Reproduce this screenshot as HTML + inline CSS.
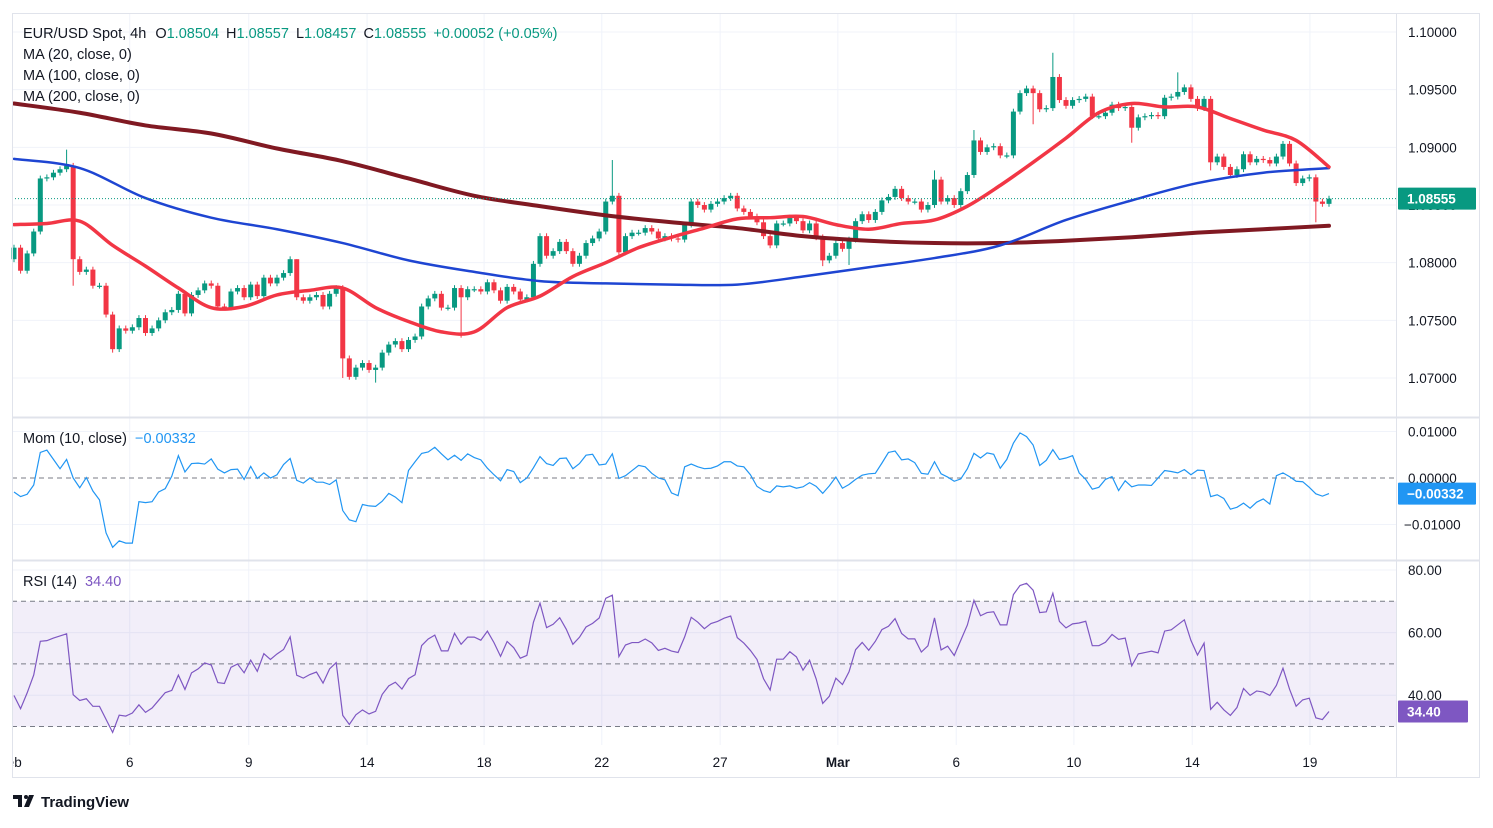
<!DOCTYPE html>
<html>
<head>
<meta charset="utf-8">
<style>
html,body{margin:0;padding:0;background:#fff;}
body{width:1493px;height:823px;overflow:hidden;font-family:"Liberation Sans",sans-serif;}
svg text{font-family:"Liberation Sans",sans-serif;}
</style>
</head>
<body>
<svg id="chart" width="1493" height="823" viewBox="0 0 1493 823" xmlns="http://www.w3.org/2000/svg">
  <rect x="0" y="0" width="1493" height="823" fill="#ffffff"/>
  <g id="grid"></g>
  <rect id="rsiBand" x="12" y="0" width="1384" height="0" fill="#7e57c2" fill-opacity="0.1"/>
  <g id="guides"></g>
  <g id="candles"></g>
  <g id="mas"></g>
  <g id="ind"></g>
  <g id="axes"></g>
  <rect x="12.5" y="13.5" width="1467" height="764" fill="none" stroke="#e0e3eb"/>
  <line x1="1396.5" y1="13" x2="1396.5" y2="778" stroke="#e0e3eb"/>
  <line x1="12" y1="417.5" x2="1480" y2="417.5" stroke="#e0e3eb" stroke-width="2"/>
  <line x1="12" y1="560.5" x2="1480" y2="560.5" stroke="#e0e3eb" stroke-width="2"/>
  <g font-size="14.5" fill="#131722">
    <text x="23" y="38">EUR/USD Spot, 4h <tspan dx="5">O</tspan><tspan fill="#089981">1.08504</tspan><tspan dx="7">H</tspan><tspan fill="#089981">1.08557</tspan><tspan dx="7">L</tspan><tspan fill="#089981">1.08457</tspan><tspan dx="7">C</tspan><tspan fill="#089981">1.08555</tspan><tspan dx="7" fill="#089981">+0.00052 (+0.05%)</tspan></text>
    <text x="23" y="59">MA (20, close, 0)</text>
    <text x="23" y="80">MA (100, close, 0)</text>
    <text x="23" y="101">MA (200, close, 0)</text>
    <text x="23" y="443">Mom (10, close) <tspan dx="4" fill="#2196f3" id="momLeg"></tspan></text>
    <text x="23" y="586">RSI (14) <tspan dx="4" fill="#7e57c2" id="rsiLeg"></tspan></text>
  </g>
  <g>
    <path d="M13 795 h9 v12 h-4 v-8 h-5 z" fill="#131722"/>
    <circle cx="26" cy="797" r="2" fill="#131722"/>
    <path d="M29 795 h5 l-5 12 h-5 z" fill="#131722"/>
    <text x="41" y="807" font-size="15" font-weight="bold" fill="#131722">TradingView</text>
  </g>
</svg>
<script>
// ---- data ----
const priorCloses = [1.0850,1.0845,1.0848,1.0840,1.0843,1.0833,1.0843,1.0842,1.0818,1.0814,1.0838,1.0861,1.0844,1.0803];
const closes = [
1.0813,1.0793,1.0808,1.0827,1.0873,1.0874,1.0878,1.0881,1.0884,1.0803,
1.0792,1.0794,1.0780,1.0780,1.0755,1.0725,1.0743,1.0741,1.0744,1.0752,
1.0739,1.0743,1.0750,1.0757,1.0759,1.0773,1.0756,1.0772,1.0776,1.0782,
1.0780,1.0762,1.0761,1.0775,1.0778,1.0770,1.0781,1.0771,1.0787,1.0782,
1.0787,1.0791,1.0803,1.0770,1.0767,1.0770,1.0772,1.0762,1.0773,1.0778,
1.0717,1.0701,1.0709,1.0713,1.0707,1.0709,1.0722,1.0729,1.0732,1.0725,
1.0733,1.0736,1.0762,1.0769,1.0773,1.0761,1.0761,1.0778,1.0770,1.0777,
1.0777,1.0775,1.0783,1.0776,1.0767,1.0779,1.0775,1.0768,1.0770,1.0799,
1.0823,1.0806,1.0810,1.0818,1.0810,1.0799,1.0806,1.0817,1.0821,1.0827,
1.0853,1.0858,1.0809,1.0823,1.0826,1.0826,1.0830,1.0827,1.0821,1.0823,
1.0821,1.0820,1.0833,1.0853,1.0850,1.0846,1.0851,1.0853,1.0856,1.0858,
1.0847,1.0844,1.0840,1.0835,1.0823,1.0815,1.0834,1.0834,1.0839,1.0836,
1.0828,1.0834,1.0822,1.0802,1.0806,1.0817,1.0812,1.0820,1.0836,1.0842,
1.0837,1.0844,1.0854,1.0857,1.0864,1.0856,1.0853,1.0853,1.0846,1.0850,
1.0872,1.0853,1.0856,1.0850,1.0862,1.0876,1.0906,1.0896,1.0900,1.0901,
1.0893,1.0893,1.0931,1.0947,1.0951,1.0947,1.0933,1.0934,1.0961,1.0941,
1.0936,1.0941,1.0942,1.0944,1.0927,1.0927,1.0930,1.0937,1.0934,1.0935,
1.0917,1.0926,1.0927,1.0928,1.0927,1.0943,1.0944,1.0948,1.0952,1.0942,
1.0934,1.0942,1.0887,1.0892,1.0883,1.0876,1.0881,1.0894,1.0887,1.0890,
1.0889,1.0886,1.0892,1.0903,1.0886,1.0869,1.0873,1.0874,1.0853,1.0851,1.08555];
const wickHighs = [[8,1.0898],[43,1.0798],[91,1.0889],[158,1.0982],[177,1.0965],[140,1.0880],[146,1.0915]];
const wickLows = [[9,1.0780],[15,1.0722],[50,1.0700],[55,1.0696],[68,1.0735],[92,1.0805],[123,1.0797],[127,1.0798],[155,1.0920],[170,1.0904],[198,1.0835],[182,1.0880]];
const ma20 = [1.0833,1.0834,1.0836,1.0815,1.0797,1.0778,1.0761,1.0762,1.0772,1.0776,1.0778,1.0761,1.0749,1.0740,1.0740,1.0761,1.0771,1.0788,1.0800,1.0813,1.0822,1.0830,1.0838,1.0839,1.0840,1.0833,1.0829,1.0834,1.0837,1.0849,1.0867,1.0887,1.0908,1.0930,1.0938,1.0935,1.0935,1.0925,1.0915,1.0906,1.0883];
const ma100 = [1.0890,1.0882,1.0856,1.0839,1.0829,1.0817,1.0802,1.0792,1.0784,1.0782,1.0781,1.0781,1.0788,1.0796,1.0804,1.0815,1.0837,1.0854,1.0869,1.0878,1.0882];
const ma200 = [1.0938,1.0930,1.0919,1.0912,1.0899,1.0888,1.0873,1.0858,1.0849,1.0841,1.0835,1.0830,1.0823,1.0819,1.0817,1.0817,1.0819,1.0822,1.0826,1.0829,1.0832];
const priceTicks = [1.10,1.095,1.09,1.085,1.08,1.075,1.07];
const priceTickLabels = ["1.10000","1.09500","1.09000","1.08500","1.08000","1.07500","1.07000"];
const momTicks = [0.01,0,-0.01];
const momTickLabels = ["0.01000","0.00000","\u22120.01000"];
const rsiTicks = [80,60,40];
const rsiTickLabels = ["80.00","60.00","40.00"];
const dateIdx = [-0.6,17.6,35.7,53.7,71.5,89.4,107.4,125.3,143.3,161.2,179.2,197.1];
const dateLabels = ["Feb","6","9","14","18","22","27","Mar","6","10","14","19"];
const lastPriceLabel = "1.08555";
const lastMomLabel = "\u22120.00332";
const lastRsiLabel = "34.40";

// ---- scales ----
const NS='http://www.w3.org/2000/svg';
const X = i => 14 + i*6.575;
const Y = p => 32 + (1.1 - p)*11533.33;
const YM = m => 478 - m*4650;
const YR = r => 570 + (80 - r)*3.13;
function mk(tag, attrs, parent){const e=document.createElementNS(NS,tag);for(const k in attrs)e.setAttribute(k,attrs[k]);parent.appendChild(e);return e;}
const grid=document.getElementById('grid'), guides=document.getElementById('guides'),
 cg=document.getElementById('candles'), mg=document.getElementById('mas'), ig=document.getElementById('ind'), ax=document.getElementById('axes');

// grid
dateIdx.forEach((d,k)=>{ if(k===0) return; const l=mk('line',{x1:X(d),x2:X(d),y1:13,y2:745,stroke:'#f0f3fa'},grid);
   });
priceTicks.forEach(p=>{ const l=mk('line',{x1:12,x2:1396,y1:Y(p),y2:Y(p),stroke:'#f0f3fa'},grid);
   });
momTicks.forEach(m=>{ if(m===0) return; const l=mk('line',{x1:12,x2:1396,y1:YM(m),y2:YM(m),stroke:'#f0f3fa'},grid);
   });
rsiTicks.forEach(r=>{ const l=mk('line',{x1:12,x2:1396,y1:YR(r),y2:YR(r),stroke:'#f0f3fa'},grid);
   });
const band=document.getElementById('rsiBand'); band.setAttribute('y',YR(70)); band.setAttribute('height',YR(30)-YR(70));
[[YM(0),'mom-zero-line'],[YR(70),'rsi-upper-line'],[YR(50),'rsi-mid-line'],[YR(30),'rsi-lower-line']].forEach(([y,n])=>{
 const l=mk('line',{x1:12,x2:1396,y1:y,y2:y,stroke:'#787b86','stroke-dasharray':'5,4'},guides);
   });

// candles
const hiMap={}, loMap={}; wickHighs.forEach(([i,v])=>hiMap[i]=v); wickLows.forEach(([i,v])=>loMap[i]=v);
closes.forEach((c,i)=>{
 const o = i===0 ? priorCloses[priorCloses.length-1] : closes[i-1];
 const up = c>=o, col = up?'#089981':'#f23645';
 const top=Math.max(o,c), bot=Math.min(o,c);
 const h = hiMap[i]!==undefined?Math.max(hiMap[i],top):top+0.00025;
 const l = loMap[i]!==undefined?Math.min(loMap[i],bot):bot-0.00025;
 const g=mk('g',{},cg);
  
 mk('line',{x1:X(i),x2:X(i),y1:Y(h),y2:Y(l),stroke:col,'stroke-width':1},g);
 const yt=Y(top), hb=Math.max(1.2,Y(bot)-yt);
 mk('rect',{x:X(i)-2.5,y:yt,width:5,height:hb,fill:col},g);
});

// smooth path
function smooth(pts){let d='M'+pts[0][0]+','+pts[0][1];
 for(let i=0;i<pts.length-1;i++){const p0=pts[i-1]||pts[i],p1=pts[i],p2=pts[i+1],p3=pts[i+2]||p2;
  d+=' C'+(p1[0]+(p2[0]-p0[0])/6)+','+(p1[1]+(p2[1]-p0[1])/6)+' '+(p2[0]-(p3[0]-p1[0])/6)+','+(p2[1]-(p3[1]-p1[1])/6)+' '+p2[0]+','+p2[1];}
 return d;}
const m200=mk('path',{d:smooth(ma200.map((v,k)=>[X(k*10),Y(v)])),fill:'none',stroke:'#801922','stroke-width':4,'stroke-linecap':'round'},mg);
 
const m100=mk('path',{d:smooth(ma100.map((v,k)=>[X(k*10),Y(v)])),fill:'none',stroke:'#1e45d2','stroke-width':2.5,'stroke-linecap':'round'},mg);
 
const m20=mk('path',{d:smooth(ma20.map((v,k)=>[X(k*5),Y(v)])),fill:'none',stroke:'#f23645','stroke-width':3.5,'stroke-linecap':'round'},mg);
 

// last price line
const last=closes[closes.length-1];
const lp=mk('line',{x1:12,x2:1396,y1:Y(last),y2:Y(last),stroke:'#089981','stroke-dasharray':'1,2'},mg);
 

// indicators
const all=priorCloses.concat(closes), off=priorCloses.length;
const mom=closes.map((c,i)=>c-all[off+i-10]);
let ag=0,al=0; const rsi=[];
for(let j=1;j<all.length;j++){const ch=all[j]-all[j-1];const g=Math.max(ch,0),l=Math.max(-ch,0);
 if(j<=14){ag+=g/14;al+=l/14;} else {ag=(ag*13+g)/14;al=(al*13+l)/14;}
 if(j>=off) rsi.push(al===0?100:100-100/(1+ag/al));}
const mp=mk('polyline',{points:mom.map((m,i)=>X(i)+','+YM(m)).join(' '),fill:'none',stroke:'#2196f3','stroke-width':1.2},ig);
 
const rp=mk('polyline',{points:rsi.map((r,i)=>X(i)+','+YR(r)).join(' '),fill:'none',stroke:'#7e57c2','stroke-width':1.2},ig);
 
document.getElementById('momLeg').textContent=lastMomLabel;
document.getElementById('rsiLeg').textContent=lastRsiLabel;

// axes labels
function lbl(x,y,t,name,extra){const e=mk('text',Object.assign({x:x,y:y,'font-size':13.5,fill:'#131722'},extra||{}),ax);e.textContent=t;
   return e;}
priceTicks.forEach((p,k)=>lbl(1408,Y(p)+5,priceTickLabels[k],'price-tick-label'));
momTicks.forEach((m,k)=>lbl(m<0?1404:1408,YM(m)+5,momTickLabels[k],'mom-tick-label'));
rsiTicks.forEach((r,k)=>lbl(1408,YR(r)+5,rsiTickLabels[k],'rsi-tick-label'));
dateLabels.forEach((t,k)=>{const x=Math.max(X(dateIdx[k]),0);
 lbl(x,767,t,'date-label',{'text-anchor':'middle','font-weight':t==='Mar'?'bold':'normal'});});
const cov=mk('rect',{x:0,y:750,width:12,height:25,fill:'#fff'},ax);
 

function tag(y,t,col,name){const r=mk('rect',{x:1398,y:y-11,width:t.length>6?78:70,height:22,fill:col,rx:1},ax);
  
 const e=lbl(1407,y+5,t,name+'-text',{fill:'#ffffff','font-weight':'bold'});}
tag(Y(last),lastPriceLabel,'#089981','last-price-tag');
tag(YM(mom[mom.length-1]),lastMomLabel,'#2196f3','mom-value-tag');
tag(YR(rsi[rsi.length-1]),lastRsiLabel,'#7e57c2','rsi-value-tag');
</script>
</body>
</html>
